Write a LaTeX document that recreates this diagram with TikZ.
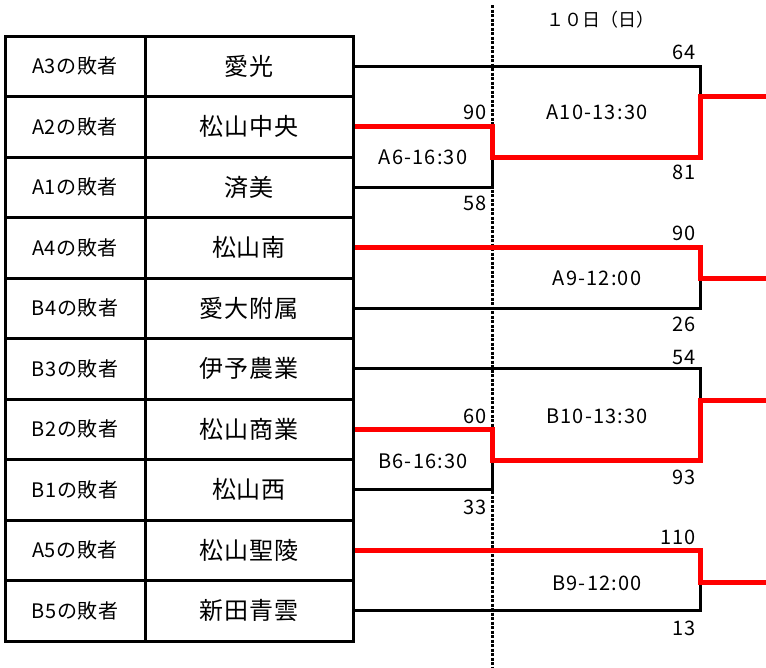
\documentclass[tikz,border=0pt]{standalone}
\usepackage{fontspec}
\setmainfont{Noto Sans CJK JP}
\usetikzlibrary{positioning, calc}
\definecolor{Winner}{RGB}{255, 0, 0}

\begin{document}
\begin{tikzpicture}[x=1pt, y=-1pt,
    seedcell/.style={draw, line width=3pt, minimum width=140pt, minimum height=60.5pt, inner sep=0pt, font=\fontsize{20}{20}\selectfont\addfontfeature{LetterSpace=3}},
    teamcell/.style={draw, line width=3pt, minimum width=208pt, minimum height=60.5pt, inner sep=0pt, font=\fontsize{24}{24}\selectfont\addfontfeature{LetterSpace=3}},
    loseline/.style={line width=3pt},
    winline/.style={Winner, line width=5pt},
    score/.style={anchor=east, inner sep=0pt, font=\fontsize{20}{20}\selectfont\addfontfeature{LetterSpace=4}},
    gamelabel/.style={inner sep=0pt, font=\fontsize{20}{20}\selectfont\addfontfeature{LetterSpace=6}}]
    \useasboundingbox (0,0) rectangle (766,667);

    % Day line
    \draw[line width=3pt, dash pattern=on 3pt off 1.5pt] (492,5) -- (492,667);
    \node[anchor=west, inner sep=0pt, font=\fontsize{18}{18}\selectfont] (day) at (546,20) {１０日（日）};

    % Seed table
    \node[seedcell] (s1) at (75,66.25) {A3の敗者};
    \node[teamcell] (t1) at (249,66.25) {愛光};
    \node[seedcell] (s2) at (75,126.75) {A2の敗者};
    \node[teamcell] (t2) at (249,126.75) {松山中央};
    \node[seedcell] (s3) at (75,187.25) {A1の敗者};
    \node[teamcell] (t3) at (249,187.25) {済美};
    \node[seedcell] (s4) at (75,247.75) {A4の敗者};
    \node[teamcell] (t4) at (249,247.75) {松山南};
    \node[seedcell] (s5) at (75,308.25) {B4の敗者};
    \node[teamcell] (t5) at (249,308.25) {愛大附属};
    \node[seedcell] (s6) at (75,368.75) {B3の敗者};
    \node[teamcell] (t6) at (249,368.75) {伊予農業};
    \node[seedcell] (s7) at (75,429.25) {B2の敗者};
    \node[teamcell] (t7) at (249,429.25) {松山商業};
    \node[seedcell] (s8) at (75,489.75) {B1の敗者};
    \node[teamcell] (t8) at (249,489.75) {松山西};
    \node[seedcell] (s9) at (75,550.25) {A5の敗者};
    \node[teamcell] (t9) at (249,550.25) {松山聖陵};
    \node[seedcell] (s10) at (75,610.75) {B5の敗者};
    \node[teamcell] (t10) at (249,610.75) {新田青雲};

    % Joints
    \coordinate (a6top) at (492,126.75);
    \coordinate (a6bot) at (492,187.25);
    \coordinate (a6out) at (492,157);
    \coordinate (a10top) at (700,66.25);
    \coordinate (a10bot) at (700,157);
    \coordinate (a10out) at (700,96);
    \coordinate (a10end) at (766,96);
    \coordinate (a9top) at (700,247.75);
    \coordinate (a9bot) at (700,308.25);
    \coordinate (a9out) at (700,278);
    \coordinate (a9end) at (766,278);
    \coordinate (b6top) at (492,429.25);
    \coordinate (b6bot) at (492,489.75);
    \coordinate (b6out) at (492,460);
    \coordinate (b10top) at (700,368.75);
    \coordinate (b10bot) at (700,460);
    \coordinate (b10out) at (700,400);
    \coordinate (b10end) at (766,400);
    \coordinate (b9top) at (700,550.25);
    \coordinate (b9bot) at (700,610.75);
    \coordinate (b9out) at (700,582);
    \coordinate (b9end) at (766,582);

    % Losing sides
    \draw[loseline] (t3.east) -- (a6bot) -- (a6out);
    \draw[loseline] (t1.east) -- (a10top) -- (a10out);
    \draw[loseline] (t5.east) -- (a9bot) -- (a9out);
    \draw[loseline] (t8.east) -- (b6bot) -- (b6out);
    \draw[loseline] (t6.east) -- (b10top) -- (b10out);
    \draw[loseline] (t10.east) -- (b9bot) -- (b9out);

    % Winning sides
    \draw[winline] (t2.east) -- (a6top) -- (a6out) -- (a10bot) -- (a10out) -- (a10end);
    \draw[winline] (t4.east) -- (a9top) -- (a9out) -- (a9end);
    \draw[winline] (t7.east) -- (b6top) -- (b6out) -- (b10bot) -- (b10out) -- (b10end);
    \draw[winline] (t9.east) -- (b9top) -- (b9out) -- (b9end);

    % Games
    \node[gamelabel] (a6) at (423,157) {A6-16:30};
    \node[gamelabel] (a10) at (597,112) {A10-13:30};
    \node[gamelabel] (a9) at (597,278) {A9-12:00};
    \node[gamelabel] (b6) at (423,461) {B6-16:30};
    \node[gamelabel] (b10) at (597,416) {B10-13:30};
    \node[gamelabel] (b9) at (597,583) {B9-12:00};

    % Scores
    \node[score] (a6s1) at (487,112) {90};
    \node[score] (a6s2) at (487,203) {58};
    \node[score] (a10s1) at (696,52) {64};
    \node[score] (a10s2) at (696,172) {81};
    \node[score] (a9s1) at (696,233) {90};
    \node[score] (a9s2) at (696,324) {26};
    \node[score] (b6s1) at (487,416) {60};
    \node[score] (b6s2) at (487,507) {33};
    \node[score] (b10s1) at (696,357) {54};
    \node[score] (b10s2) at (696,477) {93};
    \node[score] (b9s1) at (696,537) {110};
    \node[score] (b9s2) at (696,628) {13};
\end{tikzpicture}
\end{document}
